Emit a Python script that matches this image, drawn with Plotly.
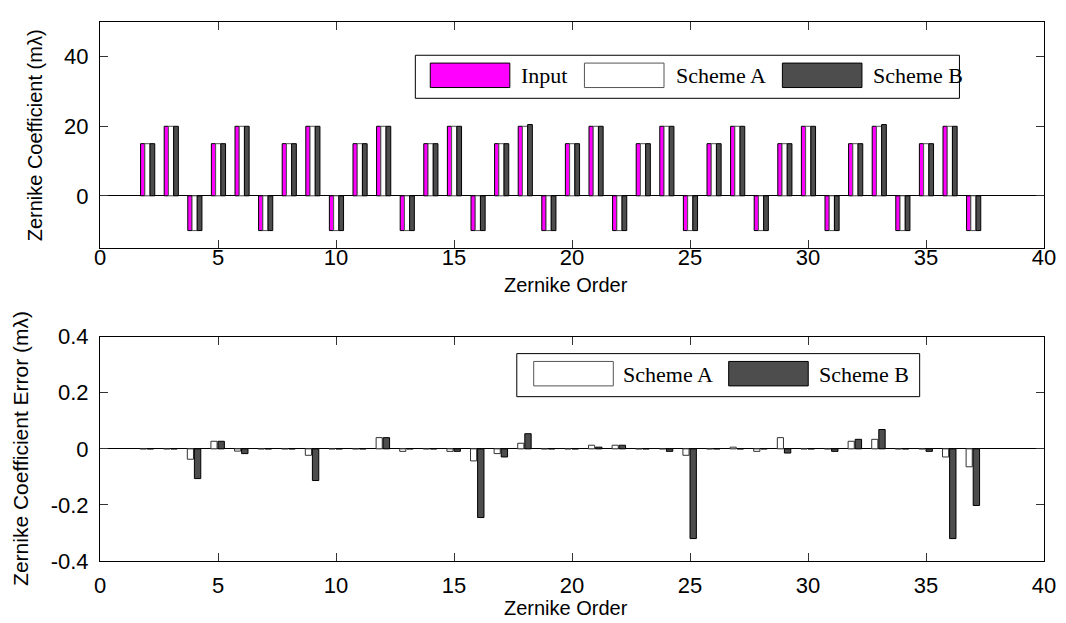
import plotly.graph_objects as go

# ---------------- data ----------------
orders = list(range(2, 38))

coef_input = [15, 20, -10, 15, 20, -10, 15, 20, -10, 15, 20, -10,
              15, 20, -10, 15, 20, -10, 15, 20, -10, 15, 20, -10,
              15, 20, -10, 15, 20, -10, 15, 20, -10, 15, 20, -10]
coef_a = [15, 20, -10, 15, 20, -10, 15, 20, -10, 15, 20, -10,
          15, 20, -10, 15, 20, -10, 15, 20, -10, 15, 20, -10,
          15, 20, -10, 15, 20, -10, 15, 20, -10, 15, 20, -10]
coef_b = [15, 20, -10, 15, 20, -10, 15, 20, -10, 15, 20, -10,
          15, 20, -10, 15, 20.5, -10, 15, 20, -10, 15, 20, -10,
          15, 20, -10, 15, 20, -10, 15, 20.5, -10, 15, 20, -10]

err_a = [0.0, 0.0, -0.037, 0.027, -0.008, 0.0, 0.0, -0.023, 0.0, 0.0,
         0.040, -0.009, 0.0, -0.009, -0.043, -0.017, 0.020, 0.0, 0.0, 0.013,
         0.013, 0.0, 0.0, -0.023, 0.0, 0.006, -0.009, 0.040, 0.0, 0.0,
         0.027, 0.034, 0.0, 0.0, -0.029, -0.064]
err_b = [0.0, 0.0, -0.106, 0.027, -0.017, 0.0, 0.0, -0.113, 0.0, 0.0,
         0.040, 0.0, 0.0, -0.009, -0.245, -0.029, 0.054, 0.0, 0.0, 0.006,
         0.013, 0.0, -0.009, -0.320, 0.0, 0.0, 0.0, -0.015, 0.0, -0.009,
         0.034, 0.069, 0.0, -0.009, -0.320, -0.202]

x_ticks = [0, 5, 10, 15, 20, 25, 30, 35, 40]
top_yticks = [0, 20, 40]
bot_yticks = [-0.4, -0.2, 0, 0.2, 0.4]
bot_yticktext = ["-0.4", "-0.2", "0", "0.2", "0.4"]

# ---------------- style ----------------
MAGENTA = "#ff00ff"
DARK = "#4d4d4d"
W, H = 1066, 623
L, R, T, B = 100, 17, 10, 62
PW, PH = W - L - R, H - T - B
SANS = "Liberation Sans, Arial, sans-serif"
SERIF = "Liberation Serif, Times New Roman, serif"


def px(xp):
    return (xp - L) / PW


def py(yp):
    return (H - B - yp) / PH


top_dom = [py(241), 1.0]
bot_dom = [0.0, py(331.7)]

fig = go.Figure()

fig.add_trace(go.Bar(x=orders, y=coef_input, width=0.18, offset=-0.28,
                     marker=dict(color=MAGENTA, line=dict(color="black", width=1)),
                     name="Input", xaxis="x", yaxis="y"))
fig.add_trace(go.Bar(x=orders, y=coef_a, width=0.22, offset=-0.10,
                     marker=dict(color="white", line=dict(color="#555555", width=1)),
                     name="Scheme A", xaxis="x", yaxis="y"))
fig.add_trace(go.Bar(x=orders, y=coef_b, width=0.20, offset=0.12,
                     marker=dict(color=DARK, line=dict(color="black", width=1)),
                     name="Scheme B", xaxis="x", yaxis="y"))

fig.add_trace(go.Bar(x=orders, y=err_a, width=0.26, offset=-0.30,
                     marker=dict(color="white", line=dict(color="#333333", width=1)),
                     name="Scheme A", xaxis="x2", yaxis="y2"))
fig.add_trace(go.Bar(x=orders, y=err_b, width=0.27, offset=0.0,
                     marker=dict(color=DARK, line=dict(color="black", width=1)),
                     name="Scheme B", xaxis="x2", yaxis="y2"))

axis_common = dict(showline=True, linecolor="black", linewidth=1, mirror="ticks",
                   ticks="inside", ticklen=8, tickcolor="#333333", showgrid=False,
                   tickfont=dict(family=SANS, size=22, color="black"))

fig.update_layout(
    width=W, height=H,
    margin=dict(l=L, r=R, t=T, b=B),
    paper_bgcolor="white", plot_bgcolor="white",
    barmode="overlay", showlegend=False,
    xaxis=dict(domain=[0, 1], anchor="y", range=[0, 40], tickvals=x_ticks,
               ticklabelstandoff=-10, zeroline=False, **axis_common),
    yaxis=dict(domain=top_dom, anchor="x", range=[-15, 50], tickvals=top_yticks,
               zeroline=True, zerolinecolor="black", zerolinewidth=1,
               ticklabelstandoff=6, **axis_common),
    xaxis2=dict(domain=[0, 1], anchor="y2", range=[0, 40], tickvals=x_ticks,
                ticklabelstandoff=5, zeroline=False, **axis_common),
    yaxis2=dict(domain=bot_dom, anchor="x2", range=[-0.4, 0.4], tickvals=bot_yticks,
                ticktext=bot_yticktext, zeroline=True, zerolinecolor="black",
                zerolinewidth=1, ticklabelstandoff=6, **axis_common),
)

shapes = []
annotations = []


def add_box(x0, y0, x1, y1, fill, line):
    shapes.append(dict(type="rect", xref="paper", yref="paper",
                       x0=px(x0), x1=px(x1), y0=py(y1), y1=py(y0),
                       fillcolor=fill, line=dict(color=line, width=1), layer="above"))


def add_text(x, y, text, size, family, xanchor="left", angle=0):
    annotations.append(dict(xref="paper", yref="paper", x=px(x), y=py(y), text=text,
                            showarrow=False, xanchor=xanchor, yanchor="middle",
                            textangle=angle,
                            font=dict(family=family, size=size, color="black")))


# top legend
add_box(417, 44, 964, 88, "white", "black")
add_box(432, 52, 512, 77, MAGENTA, "black")
add_text(521, 65, "Input", 22, SERIF)
add_box(587, 52, 667, 77, "white", "#555555")
add_text(677, 65, "Scheme A", 22, SERIF)
add_box(786, 52, 866, 77, DARK, "black")
add_text(875, 65, "Scheme B", 22, SERIF)

# bottom legend
add_box(519, 349, 924, 393, "white", "black")
add_box(536, 357, 616, 382, "white", "#555555")
add_text(624, 370, "Scheme A", 22, SERIF)
add_box(732, 357, 812, 382, DARK, "black")
add_text(821, 370, "Scheme B", 22, SERIF)

# axis titles
add_text(568, 279, "Zernike Order", 20, SANS, xanchor="center")
add_text(568, 609, "Zernike Order", 20, SANS, xanchor="center")
add_text(35, 125.5, "Zernike Coefficient (mλ)", 20, SANS, xanchor="center", angle=-90)
add_text(20, 446, "Zernike Coefficient Error (mλ)", 21, SANS, xanchor="center", angle=-90)

fig.update_layout(shapes=shapes, annotations=annotations)

fig.write_html("out.html")
